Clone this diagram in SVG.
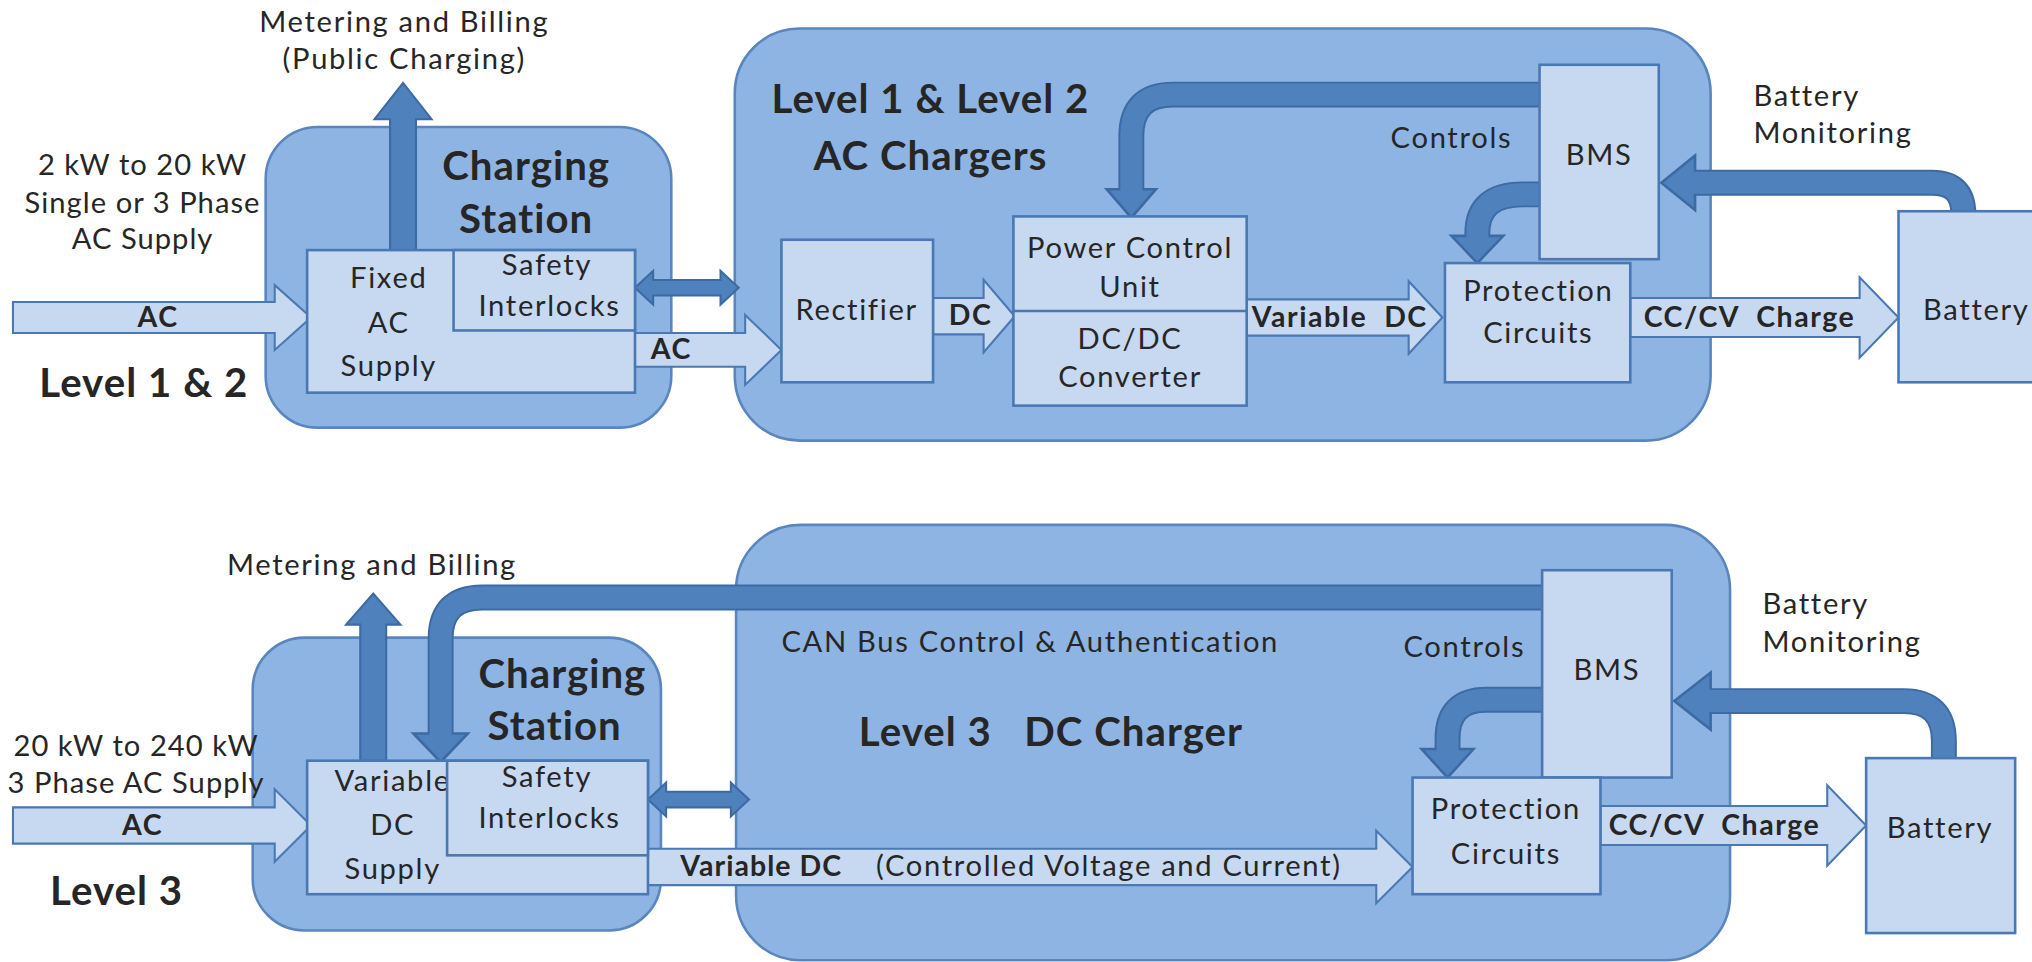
<svg xmlns="http://www.w3.org/2000/svg" width="2032" height="962" viewBox="0 0 2032 962">
<defs>
<style>
.outer{fill:#8eb4e3;stroke:#5a86bf;stroke-width:2}
.box{fill:#c6d9f1;stroke:#4a78b2;stroke-width:2}
.la{fill:#c6d9f1;stroke:#4a78b2;stroke-width:1.6}
.da{fill:#4f81bd;stroke:#3c6aa3;stroke-width:1.6}
.bo{fill:none;stroke:#3c6aa3;stroke-width:20}
.bi{fill:none;stroke:#4f81bd;stroke-width:17}
.hd{fill:#4f81bd;stroke:#3c6aa3;stroke-width:2;stroke-linejoin:miter}
text{font-family:Lato,"Open Sans","Liberation Sans",sans-serif;fill:#262626;text-anchor:middle}
.t{font-size:22.5px;letter-spacing:1.3px}
.b{font-weight:bold;font-size:22px;letter-spacing:1.2px}
.h{font-weight:bold;font-size:31px;letter-spacing:0.8px}
.s{text-anchor:start}
.n{letter-spacing:0.8px}
</style>
</defs>
<rect width="2032" height="962" fill="#ffffff"/>
<g transform="scale(1.29592)">

<g id="charging-station-1">
<rect class="outer" x="205" y="98" width="313" height="232" rx="40"/>
<text class="h" x="406" y="139">Charging</text>
<text class="h" x="406" y="180">Station</text>
</g>
<g id="ac-chargers">
<rect class="outer" x="567" y="22" width="753" height="318" rx="50"/>
<text class="h" x="718" y="87">Level 1 &amp; Level 2</text>
<text class="h" x="718" y="131">AC Chargers</text>
</g>
<g id="charging-station-2">
<rect class="outer" x="195" y="492" width="315" height="226" rx="40"/>
<text class="h" x="434" y="531">Charging</text>
<text class="h" x="428" y="571">Station</text>
</g>
<g id="dc-charger">
<rect class="outer" x="568" y="405" width="767" height="336" rx="50"/>
<text class="t" x="795" y="503">CAN Bus Control &amp; Authentication</text>
<text class="h" x="811" y="576" xml:space="preserve">Level 3   DC Charger</text>
</g>

<g id="connectors">
<polygon class="la" points="10,233 212,233 212,220 240,245 212,270 212,257 10,257"/>
<polygon class="la" points="490,257 575,257 575,243 603,270 575,297 575,283 490,283"/>
<polygon class="la" points="720,230 759,230 759,216 783,244 759,272 759,258 720,258"/>
<polygon class="la" points="962,231 1087,231 1087,217 1113,245 1087,273 1087,259 962,259"/>
<polygon class="la" points="1258,230 1435,230 1435,214 1465,245 1435,276 1435,260 1258,260"/>
<polygon class="la" points="10,623 212,623 212,609 240,637 212,665 212,651 10,651"/>
<polygon class="la" points="500,655 1062,655 1062,641 1090,669 1062,697 1062,683 500,683"/>
<polygon class="la" points="1235,622 1410,622 1410,606 1440,637 1410,668 1410,652 1235,652"/>
<polygon class="da" points="301,193 301,92 289,92 311,64 333,92 321,92 321,193"/>
<polygon class="da" points="278,587 278,482 267,482 288,458 309,482 298,482 298,587"/>
<polygon class="da" points="490,222 504,209 504,216 556,216 556,209 570,222 556,235 556,228 504,228 504,235"/>
<polygon class="da" points="500,617 514,604 514,611 564,611 564,604 578,617 564,630 564,623 514,623 514,630"/>
<path class="bo" d="M1188,73 H905 Q873,73 873,105 V148"/>
<path class="bo" d="M1188,150 H1175 Q1140,150 1140,180 V184"/>
<path class="bo" d="M1515,165 Q1515,141 1491,141 H1308"/>
<path class="bo" d="M1190,461 H372 Q340,461 340,493 V568"/>
<path class="bo" d="M1190,540 H1147 Q1117,540 1117,570 V580"/>
<path class="bo" d="M1500,586 V572 Q1500,541 1469,541 H1320"/>
<polygon class="hd" points="854,146 892,146 873,168"/>
<polygon class="hd" points="1120,182 1160,182 1140,203"/>
<polygon class="hd" points="1308,120 1308,162 1282,141"/>
<polygon class="hd" points="319,566 361,566 340,588"/>
<polygon class="hd" points="1097,578 1137,578 1117,600"/>
<polygon class="hd" points="1320,519 1320,563 1292,541"/>
<path class="bi" d="M1188,73 H905 Q873,73 873,105 V151"/>
<path class="bi" d="M1188,150 H1175 Q1140,150 1140,180 V187"/>
<path class="bi" d="M1515,165 Q1515,141 1491,141 H1305"/>
<path class="bi" d="M1190,461 H372 Q340,461 340,493 V571"/>
<path class="bi" d="M1190,540 H1147 Q1117,540 1117,570 V583"/>
<path class="bi" d="M1500,586 V572 Q1500,541 1469,541 H1317"/>
</g>

<g id="fixed-ac-supply">
<rect class="box" x="237" y="193" width="253" height="110"/>
<text class="t" x="300" y="222">Fixed</text>
<text class="t" x="300" y="257">AC</text>
<text class="t" x="300" y="290">Supply</text>
</g>
<g id="safety-interlocks-1">
<rect class="box" x="350" y="193" width="140" height="62"/>
<text class="t" x="422" y="212">Safety</text>
<text class="t" x="424" y="244">Interlocks</text>
</g>
<g id="rectifier">
<rect class="box" x="603" y="185" width="117" height="110"/>
<text class="t" x="661" y="247">Rectifier</text>
</g>
<g id="power-control-unit">
<rect class="box" x="782" y="167" width="180" height="146"/>
<line x1="782" y1="240" x2="962" y2="240" stroke="#4a78b2" stroke-width="2"/>
<text class="t" x="872" y="199">Power Control</text>
<text class="t" x="872" y="229">Unit</text>
<text class="t" x="872" y="269">DC/DC</text>
<text class="t" x="872" y="299">Converter</text>
</g>
<g id="bms-1">
<rect class="box" x="1188" y="50" width="92" height="150"/>
<text class="t" x="1234" y="127">BMS</text>
</g>
<g id="protection-1">
<rect class="box" x="1115" y="203" width="143" height="92"/>
<text class="t" x="1187" y="232">Protection</text>
<text class="t" x="1187" y="265">Circuits</text>
</g>
<g id="battery-1">
<rect class="box" x="1465" y="163" width="110" height="132"/>
<text class="t" x="1525" y="247">Battery</text>
</g>

<g id="variable-dc-supply">
<rect class="box" x="237" y="587" width="263" height="103"/>
<text class="t" x="303" y="610">Variable</text>
<text class="t" x="303" y="644">DC</text>
<text class="t" x="303" y="678">Supply</text>
</g>
<g id="safety-interlocks-2">
<rect class="box" x="345" y="587" width="155" height="73"/>
<text class="t" x="422" y="607">Safety</text>
<text class="t" x="424" y="639">Interlocks</text>
</g>
<g id="bms-2">
<rect class="box" x="1190" y="440" width="100" height="160"/>
<text class="t" x="1240" y="525">BMS</text>
</g>
<g id="protection-2">
<rect class="box" x="1090" y="600" width="145" height="90"/>
<text class="t" x="1162" y="632">Protection</text>
<text class="t" x="1162" y="667">Circuits</text>
</g>
<g id="battery-2">
<rect class="box" x="1440" y="585" width="115" height="135"/>
<text class="t" x="1497" y="647">Battery</text>
</g>

<g id="labels">
<text class="t" x="312" y="25">Metering and Billing</text>
<text class="t" x="312" y="53">(Public Charging)</text>
<text class="t n" x="110" y="135">2 kW to 20 kW</text>
<text class="t n" x="110" y="164">Single or 3 Phase</text>
<text class="t n" x="110" y="192">AC Supply</text>
<text class="h" x="111" y="306">Level 1 &amp; 2</text>
<text class="b" x="122" y="252">AC</text>
<text class="b" x="518" y="277">AC</text>
<text class="b" x="749" y="251">DC</text>
<text class="b s" x="966" y="252" xml:space="preserve">Variable  DC</text>
<text class="b" x="1350" y="252" xml:space="preserve">CC/CV  Charge</text>
<text class="t" x="1120" y="114">Controls</text>
<text class="t s" x="1353" y="82">Battery</text>
<text class="t s" x="1353" y="110">Monitoring</text>

<text class="t" x="287" y="444">Metering and Billing</text>
<text class="t n" x="105" y="583">20 kW to 240 kW</text>
<text class="t n" x="105" y="612">3 Phase AC Supply</text>
<text class="b" x="110" y="644">AC</text>
<text class="h" x="90" y="698">Level 3</text>
<text class="b s n" x="525" y="676">Variable DC</text>
<text class="t s" x="676" y="676">(Controlled Voltage and Current)</text>
<text class="b" x="1323" y="644" xml:space="preserve">CC/CV  Charge</text>
<text class="t" x="1130" y="507">Controls</text>
<text class="t s" x="1360" y="474">Battery</text>
<text class="t s" x="1360" y="503">Monitoring</text>
</g>
</g>
</svg>
